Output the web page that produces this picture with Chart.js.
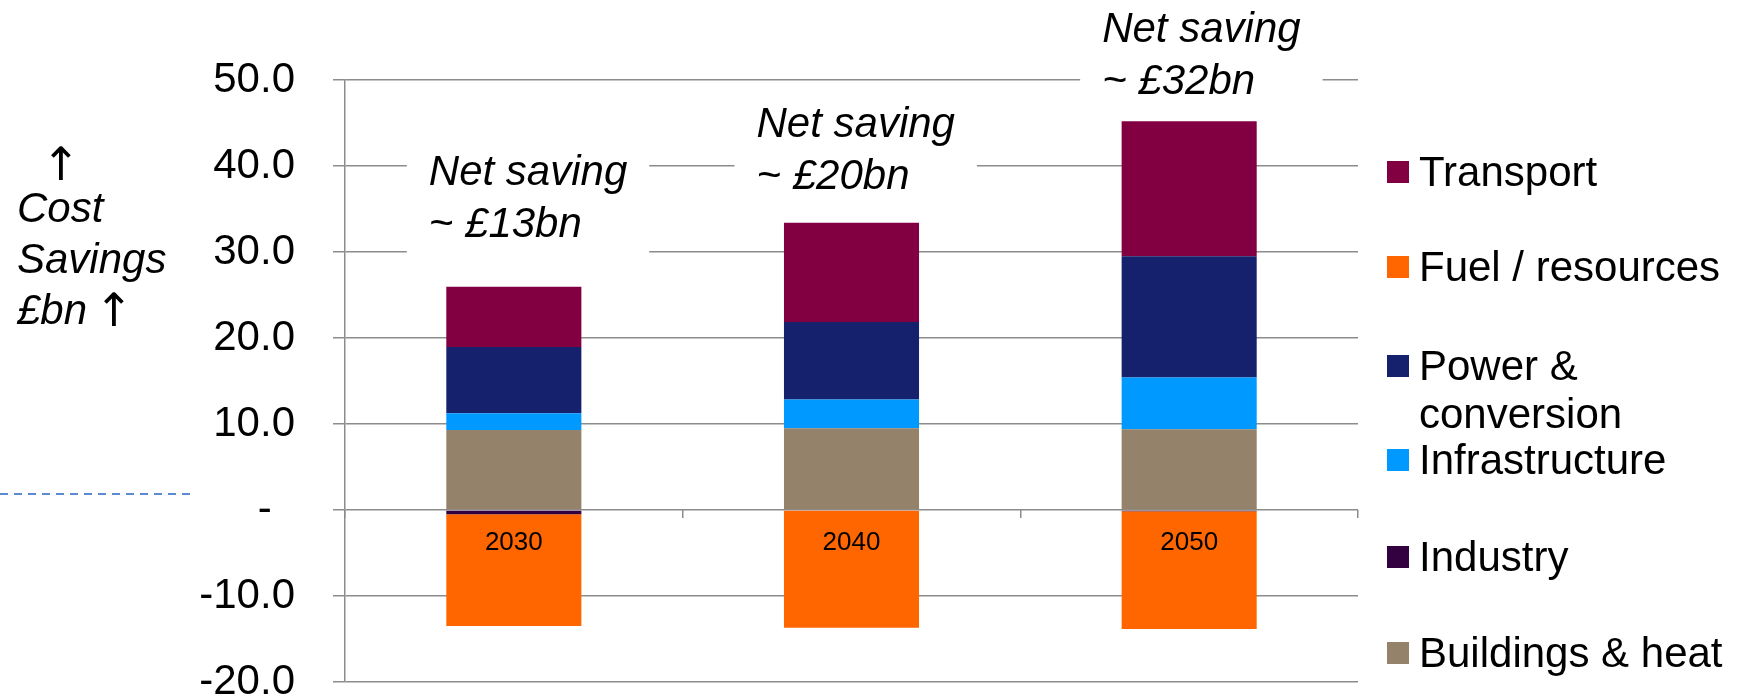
<!DOCTYPE html>
<html>
<head>
<meta charset="utf-8">
<script src="https://cdn.jsdelivr.net/npm/chart.js@4"></script>
<style>
  html, body { margin: 0; padding: 0; background: #ffffff; }
  #wrap { width: 1742px; height: 698px; }
</style>
</head>
<body>
<div id="wrap"><canvas id="c" width="1742" height="698"></canvas></div>
<script>
// ---- data ----
const categories = ['2030', '2040', '2050'];
const buildings = [9.3, 9.5, 9.4];
const industry = [-0.5, -0.1, -0.15];
const infrastructure = [1.95, 3.35, 6.0];
const power = [7.7, 9.0, 14.1];
const fuel = [-13.0, -13.6, -13.7];
const transport = [7.0, 11.55, 15.7];
const seriesNames = ['Buildings & heat', 'Industry', 'Infrastructure', 'Power & conversion', 'Fuel / resources', 'Transport'];
const seriesColors = ['#94826A', '#330040', '#0099FF', '#16216D', '#FF6600', '#820041'];
const yTicks = { min: -20, max: 50, step: 10 };
const annotationText = [['Net saving', '~ £13bn'], ['Net saving', '~ £20bn'], ['Net saving', '~ £32bn']];
const annotationTopValue = [37.8, 43.4, 54.4];
const axisTitleLines = ['Cost', 'Savings', '£bn'];
const ARROW = '↑';

const FONT = "'Liberation Sans', Arial, Helvetica, sans-serif";
const GRID = '#8c8c8c';

const seriesValues = [buildings, industry, infrastructure, power, fuel, transport];
const datasets = seriesNames.map((name, i) => ({
  label: name,
  data: seriesValues[i],
  backgroundColor: seriesColors[i],
  borderWidth: 0,
  barPercentage: 0.4,
  categoryPercentage: 1.0
}));

const annotationPlugin = {
  id: 'annot',
  beforeDatasetsDraw(chart) {
    const ctx = chart.ctx;
    const xs = chart.scales.x, ys = chart.scales.y;
    const offsets = [-107, -117, -109];
    ctx.save();
    ctx.font = 'italic 42px ' + FONT;
    annotationText.forEach((lines, i) => {
      const cx = xs.getPixelForValue(i);
      const left = cx + offsets[i];
      const base1 = ys.getPixelForValue(annotationTopValue[i]);
      const lh = 52;
      let w = 0;
      lines.forEach(l => { w = Math.max(w, ctx.measureText(l).width); });
      const top = base1 - 46;
      const bottom = base1 + lh * (lines.length - 1) + 18;
      ctx.fillStyle = '#ffffff';
      ctx.fillRect(left, top, w + 44, bottom - top);
      ctx.fillStyle = '#000000';
      ctx.textAlign = 'left';
      ctx.textBaseline = 'alphabetic';
      lines.forEach((l, k) => ctx.fillText(l, left + 22, base1 + k * lh));
    });
    ctx.restore();
  },
  afterDatasetsDraw(chart) {
    // category labels drawn on top of the bars, just below the zero line
    const ctx = chart.ctx;
    const xs = chart.scales.x, ys = chart.scales.y;
    const y0 = ys.getPixelForValue(0);
    ctx.save();
    ctx.font = '26px ' + FONT;
    ctx.fillStyle = '#000';
    ctx.textAlign = 'center';
    ctx.textBaseline = 'middle';
    xs.ticks.forEach((t, i) => {
      ctx.fillText(xs.getLabelForValue(t.value), xs.getPixelForValue(t.value), y0 + 33);
    });
    ctx.restore();
  },
  afterDraw(chart) {
    const ctx = chart.ctx;
    ctx.save();
    // left axis title
    ctx.fillStyle = '#000';
    ctx.textBaseline = 'alphabetic';
    ctx.textAlign = 'center';
    ctx.font = "46px 'DejaVu Sans', sans-serif";
    ctx.fillText(ARROW, 61, 180);
    ctx.textAlign = 'left';
    ctx.font = 'italic 42px ' + FONT;
    axisTitleLines.forEach((l, k) => ctx.fillText(l, 17, 222 + k * 51));
    const wBn = ctx.measureText(axisTitleLines[2] + ' ').width;
    ctx.font = "46px 'DejaVu Sans', sans-serif";
    ctx.fillText(ARROW, 17 + wBn - 4, 326);
    // dashed connector line
    ctx.strokeStyle = '#5A8AD0';
    ctx.lineWidth = 2;
    ctx.setLineDash([8, 6]);
    ctx.beginPath();
    ctx.moveTo(0, 494);
    ctx.lineTo(192, 494);
    ctx.stroke();
    ctx.setLineDash([]);

    // legend (reverse dataset order)
    const yCenters = [172, 267, 366, 460, 557, 653];
    const sqX = 1387, sqS = 22, txtX = 1419, maxW = 1742 - txtX - 4;
    ctx.font = '42px ' + FONT;
    ctx.textBaseline = 'middle';
    const ds = chart.data.datasets.slice().reverse();
    ds.forEach((d, i) => {
      const yc = yCenters[i];
      ctx.fillStyle = d.backgroundColor;
      ctx.fillRect(sqX, yc - sqS / 2, sqS, sqS);
      ctx.fillStyle = '#000';
      const words = d.label.split(' ');
      const lines = [];
      let cur = '';
      words.forEach(wd => {
        const t = cur ? cur + ' ' + wd : wd;
        if (ctx.measureText(t).width > maxW && cur) { lines.push(cur); cur = wd; }
        else cur = t;
      });
      if (cur) lines.push(cur);
      lines.forEach((l, k) => ctx.fillText(l, txtX, yc + 2 + k * 48));
    });
    ctx.restore();
  }
};

new Chart(document.getElementById('c'), {
  type: 'bar',
  data: { labels: categories, datasets },
  options: {
    responsive: false,
    animation: false,
    events: [],
    layout: { padding: { top: 80, bottom: 16, left: 0, right: 384 } },
    plugins: { legend: { display: false }, tooltip: { enabled: false } },
    scales: {
      x: {
        type: 'category',
        stacked: true,
        position: { y: 0 },
        grid: { display: true, drawOnChartArea: false, drawTicks: true, tickLength: 8, color: GRID, lineWidth: 1.5, offset: true },
        border: { display: false },
        ticks: { display: false }
      },
      y: {
        stacked: true,
        min: yTicks.min,
        max: yTicks.max,
        grid: { color: GRID, lineWidth: 1.5, tickLength: 12, drawTicks: true },
        border: { display: true, color: GRID, width: 1.5 },
        ticks: {
          stepSize: yTicks.step,
          color: '#000',
          padding: 38,
          font: { family: FONT, size: 42 },
          callback: v => (v === 0 ? '-\u00a0\u00a0' : Number(v).toFixed(1))
        },
        afterFit(scale) { scale.width = 345; scale.paddingTop = 0; scale.paddingBottom = 0; }
      }
    }
  },
  plugins: [annotationPlugin]
});
</script>
</body>
</html>
